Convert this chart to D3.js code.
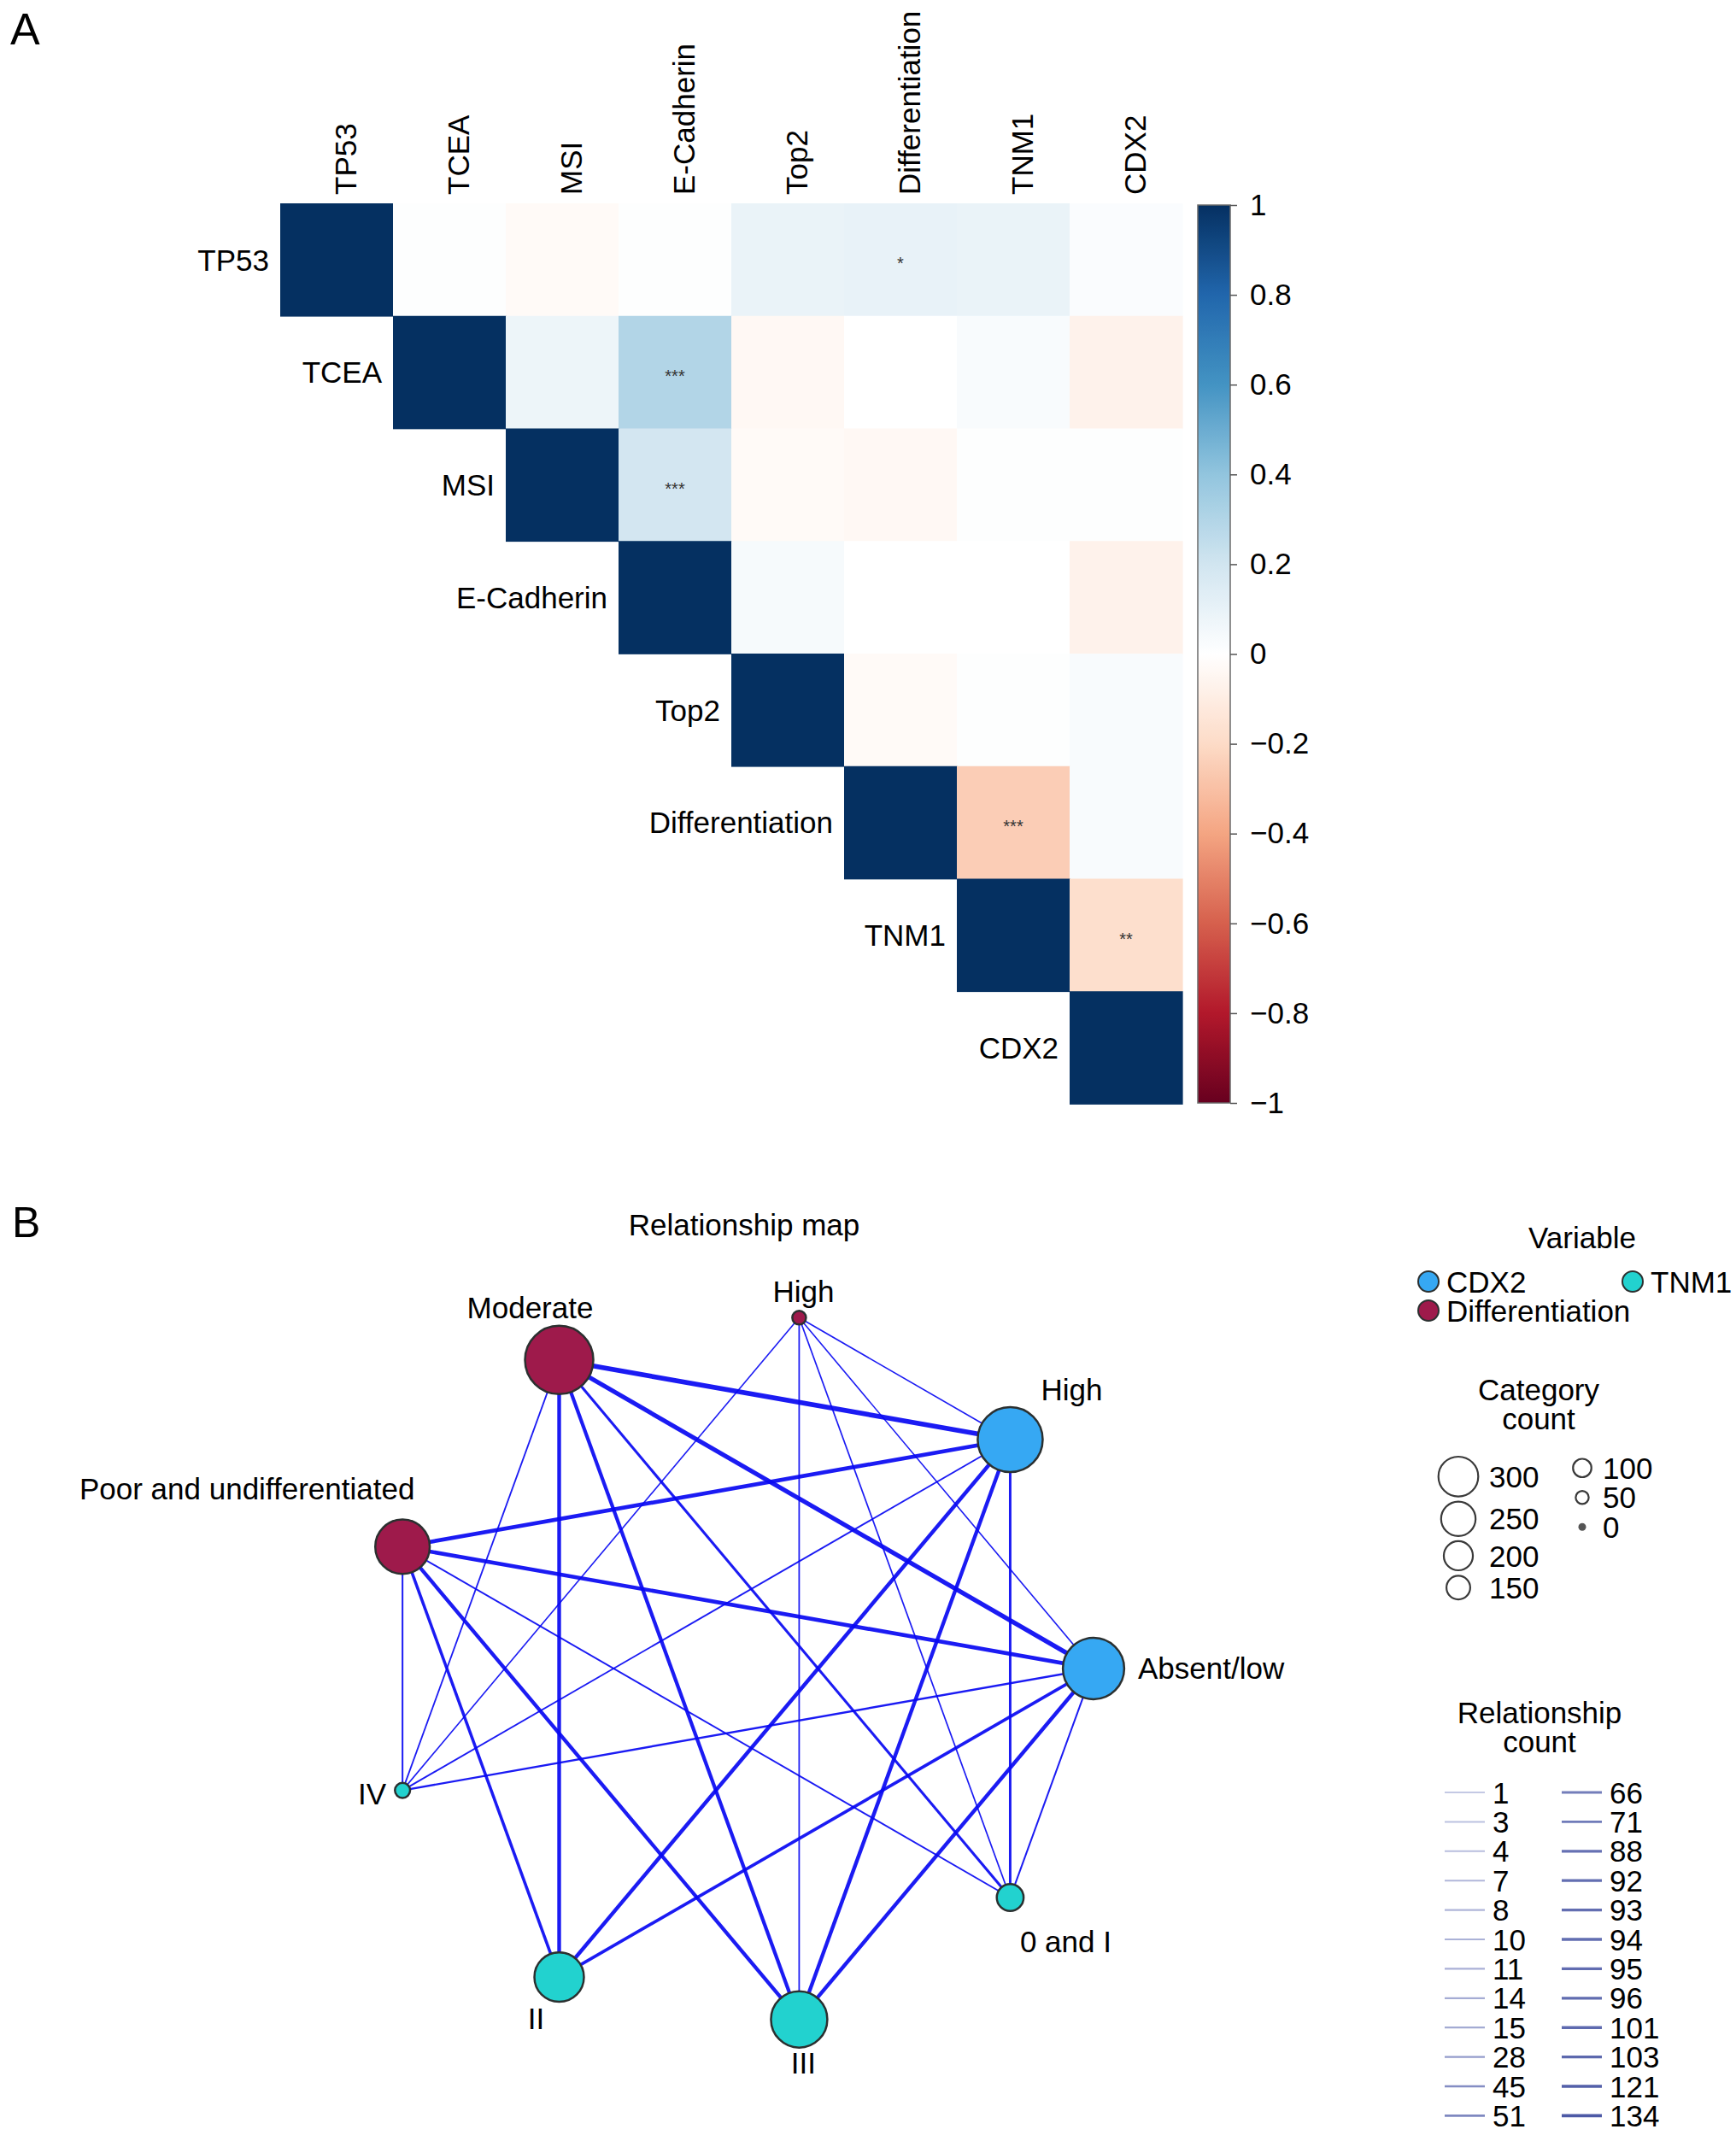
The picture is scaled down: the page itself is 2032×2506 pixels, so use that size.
<!DOCTYPE html>
<html><head><meta charset="utf-8">
<script src="https://cdn.jsdelivr.net/npm/d3@7"></script>
<style>
body{margin:0;background:#fff}
text{font-family:"Liberation Sans",Arial,Helvetica,sans-serif;fill:#000}
</style>
</head><body>
<svg id="c" width="2032" height="2506" xmlns="http://www.w3.org/2000/svg"></svg>
<script>
// ---------------- DATA ----------------
const variables = ["TP53","TCEA","MSI","E-Cadherin","Top2","Differentiation","TNM1","CDX2"];
// upper-triangle correlations, row i holds columns i..7
const corrRows = [
  [1, 0.01, -0.03, 0.01, 0.09, 0.10, 0.09, 0.02],
  [1, 0.08, 0.30, -0.04, 0.00, 0.03, -0.07],
  [1, 0.19, -0.03, -0.04, 0.01, 0.01],
  [1, 0.04, 0.00, 0.00, -0.07],
  [1, -0.03, 0.01, 0.03],
  [1, -0.25, 0.03],
  [1, -0.18],
  [1]
];
const significance = [
  ["TP53","Differentiation","*"],
  ["TCEA","E-Cadherin","***"],
  ["MSI","E-Cadherin","***"],
  ["Differentiation","TNM1","***"],
  ["TNM1","CDX2","**"]
];
const colorbarTicks = [1,0.8,0.6,0.4,0.2,0,-0.2,-0.4,-0.6,-0.8,-1];

const nodeNames = ["Absent/low","High","High","Moderate","Poor and undifferentiated","IV","II","III","0 and I"];
const nodeVariable = ["CDX2","CDX2","Differentiation","Differentiation","Differentiation","TNM1","TNM1","TNM1","TNM1"];
const nodeCount = [262,282,4,300,225,12,198,235,75];
const variableNames = ["CDX2","TNM1","Differentiation"];
// [source index, target index, relationship count]
const relationships = [
  [1,3,134],[0,3,121],[1,4,103],[0,4,101],[1,6,96],[0,7,95],[3,6,94],[1,7,93],[4,7,92],[3,7,88],
  [0,6,71],[4,6,66],[3,8,51],[1,8,45],[0,5,28],
  [4,5,15],[0,8,14],[4,8,11],[1,5,10],[3,5,8],[2,7,7],[2,8,4],[1,2,3],[0,2,1],[2,5,1]
];
const sizeLegendValues = [300,250,200,150,100,50,0];
const relLegendValues = [1,3,4,7,8,10,11,14,15,28,45,51,66,71,88,92,93,94,95,96,101,103,121,134];

// ---------------- STYLE / LAYOUT ----------------
const svg = d3.select("#c");
const FS = 35;
const palette = ["#67001F","#B2182B","#D6604D","#F4A582","#FDDBC7","#FFFFFF","#D1E5F0","#92C5DE","#4393C3","#2166AC","#053061"];
const color = d3.scaleLinear().domain(d3.range(11).map(i => -1 + i * 0.2)).range(palette).interpolate(d3.interpolateRgb);
const varColor = d3.scaleOrdinal().domain(["CDX2","Differentiation","TNM1"]).range(["#36a8f3","#9e1a4b","#22d2cf"]);

// Panel letters
svg.append("text").attr("x", 12).attr("y", 52).style("font-size", "52px").text("A");
svg.append("text").attr("x", 14).attr("y", 1448).style("font-size", "50px").text("B");

// ---------------- HEATMAP ----------------
const x = d3.scaleBand().domain(variables).range([328, 1384]);
const y = d3.scaleBand().domain(variables).range([238, 1292]);
const bw = x.bandwidth();

const cells = [];
corrRows.forEach((row, i) => row.forEach((v, k) => cells.push({r: variables[i], c: variables[i + k], v})));

const hm = svg.append("g");
hm.selectAll("rect").data(cells).join("rect")
  .attr("x", d => x(d.c)).attr("y", d => y(d.r))
  .attr("width", bw + 0.6).attr("height", bw + 0.6)
  .attr("fill", d => color(d.v));

hm.selectAll("text.sig").data(significance).join("text").attr("class", "sig")
  .attr("x", d => x(d[1]) + bw / 2).attr("y", d => y(d[0]) + bw / 2 + 11)
  .attr("text-anchor", "middle").style("font-size", "20px").style("fill", "#333")
  .text(d => d[2]);

// row labels
hm.selectAll("text.row").data(variables).join("text").attr("class", "row")
  .attr("x", d => x(d) - 13).attr("y", d => y(d) + bw / 2).attr("dy", "0.36em")
  .attr("text-anchor", "end").style("font-size", FS + "px").text(d => d);

// column labels
hm.selectAll("text.col").data(variables).join("text").attr("class", "col")
  .attr("transform", d => `translate(${x(d) + bw / 2 + 23},228) rotate(-90)`)
  .attr("text-anchor", "start").style("font-size", FS + "px").text(d => d);

// colour bar
const cy = d3.scaleLinear().domain([-1, 1]).range([1291, 240]);
const defs = svg.append("defs");
const grad = defs.append("linearGradient").attr("id", "cbar").attr("x1", 0).attr("y1", 1).attr("x2", 0).attr("y2", 0);
d3.range(0, 101).forEach(i => {
  const v = -1 + i * 0.02;
  grad.append("stop").attr("offset", (i) + "%").attr("stop-color", color(v));
});
svg.append("rect").attr("x", 1402).attr("y", cy(1)).attr("width", 38).attr("height", cy(-1) - cy(1))
  .attr("fill", "url(#cbar)").attr("stroke", "#6b6b6b").attr("stroke-width", 1.5);
const fmt = d => Number.isInteger(d) ? d3.format("d")(d) : d3.format(".1f")(d);
const ax = svg.append("g").attr("transform", "translate(1440,0)")
  .call(d3.axisRight(cy).tickValues(colorbarTicks).tickSize(8).tickPadding(15).tickFormat(fmt));
ax.select(".domain").remove();
ax.selectAll(".tick line").attr("stroke", "#555").attr("stroke-width", 1.5);
ax.selectAll(".tick text").style("font-size", FS + "px").style("font-family", '"Liberation Sans",Arial,sans-serif').attr("fill", "#000");

// ---------------- NETWORK ----------------
svg.append("text").attr("x", 871).attr("y", 1446).attr("text-anchor", "middle")
  .style("font-size", FS + "px").text("Relationship map");

const cx0 = 863, cy0 = 1953, R = 417;
const angle = d3.scaleLinear().domain([0, nodeNames.length]).range([0, 2 * Math.PI]);
const nodes = nodeNames.map((n, i) => ({
  name: n, variable: nodeVariable[i], count: nodeCount[i],
  x: cx0 + R * Math.cos(angle(i)), y: cy0 - R * Math.sin(angle(i))
}));
const rNode = d3.scaleLinear().domain([0, 300]).range([7.6, 40]);
const wEdge = d3.scaleLinear().domain([1, 134]).range([1.6, 5.6]);

const net = svg.append("g");
net.selectAll("line").data(relationships).join("line")
  .attr("x1", d => nodes[d[0]].x).attr("y1", d => nodes[d[0]].y)
  .attr("x2", d => nodes[d[1]].x).attr("y2", d => nodes[d[1]].y)
  .attr("stroke", "#0808f2").attr("stroke-opacity", 0.92)
  .attr("stroke-width", d => wEdge(d[2]));

net.selectAll("circle").data(nodes).join("circle")
  .attr("cx", d => d.x).attr("cy", d => d.y).attr("r", d => rNode(d.count))
  .attr("fill", d => varColor(d.variable)).attr("stroke", "#2b3030").attr("stroke-width", 2.5);

// label placement relative to node centre (baseline)
const labelPlace = [
  {dx: 52, dy: 12, a: "start"},
  {dx: 72, dy: -46, a: "middle"},
  {dx: 5, dy: -18, a: "middle"},
  {dx: -34, dy: -49, a: "middle"},
  {dx: -182, dy: -55, a: "middle"},
  {dx: -19, dy: 16, a: "end"},
  {dx: -27, dy: 61, a: "middle"},
  {dx: 5, dy: 63, a: "middle"},
  {dx: 65, dy: 64, a: "middle"}
];
net.selectAll("text").data(nodes).join("text")
  .attr("x", (d, i) => d.x + labelPlace[i].dx).attr("y", (d, i) => d.y + labelPlace[i].dy)
  .attr("text-anchor", (d, i) => labelPlace[i].a).style("font-size", FS + "px").text(d => d.name);

// ---------------- LEGENDS ----------------
const lg = svg.append("g");
lg.append("text").attr("x", 1852).attr("y", 1461).attr("text-anchor", "middle").style("font-size", FS + "px").text("Variable");
const varPos = [[1672, 1500], [1911, 1500], [1672, 1534]];
variableNames.forEach((v, i) => {
  lg.append("circle").attr("cx", varPos[i][0]).attr("cy", varPos[i][1]).attr("r", 12)
    .attr("fill", varColor(v)).attr("stroke", "#2b3030").attr("stroke-width", 2);
  lg.append("text").attr("x", varPos[i][0] + 21).attr("y", varPos[i][1]).attr("dy", "0.36em")
    .style("font-size", FS + "px").text(v);
});

lg.append("text").attr("x", 1801).attr("y", 1639).attr("text-anchor", "middle").style("font-size", FS + "px").text("Category");
lg.append("text").attr("x", 1801).attr("y", 1673).attr("text-anchor", "middle").style("font-size", FS + "px").text("count");
const rLeg = d3.scaleLinear().domain([0, 300]).range([4.5, 23.3]);
const col1 = sizeLegendValues.filter(v => v > 100), col2 = sizeLegendValues.filter(v => v <= 100);
function sizeColumn(vals, cxp, tx, startY) {
  let yy = startY;
  vals.forEach(v => {
    const r = rLeg(v), h = Math.max(2 * r + 6, 34.5);
    const c = yy + h / 2;
    if (v === 0) {
      lg.append("circle").attr("cx", cxp).attr("cy", c).attr("r", r).attr("fill", "#555");
    } else {
      lg.append("circle").attr("cx", cxp).attr("cy", c).attr("r", r).attr("fill", "none")
        .attr("stroke", "#3a3a3a").attr("stroke-width", 2.2);
    }
    lg.append("text").attr("x", tx).attr("y", c).attr("dy", "0.36em").style("font-size", FS + "px").text(v);
    yy += h;
  });
}
sizeColumn(col1, 1707, 1743, 1702);
sizeColumn(col2, 1852, 1876, 1701);

lg.append("text").attr("x", 1802).attr("y", 2017).attr("text-anchor", "middle").style("font-size", FS + "px").text("Relationship");
lg.append("text").attr("x", 1802).attr("y", 2051).attr("text-anchor", "middle").style("font-size", FS + "px").text("count");
const relColor = d3.scaleSqrt().domain([0, 134]).range(["#cfd3ea", "#4d5aa6"]);
const relW = d3.scaleLinear().domain([1, 134]).range([2, 3.8]);
const perCol = Math.ceil(relLegendValues.length / 2);
relLegendValues.forEach((v, i) => {
  const col = Math.floor(i / perCol), row = i % perCol;
  const lx = col === 0 ? 1691 : 1828;
  const yy = 2098 + row * 34.4;
  lg.append("line").attr("x1", lx).attr("x2", lx + 47).attr("y1", yy).attr("y2", yy)
    .attr("stroke", relColor(v)).attr("stroke-width", relW(v));
  lg.append("text").attr("x", lx + 56).attr("y", yy).attr("dy", "0.36em").style("font-size", FS + "px").text(v);
});
</script>
</body></html>
